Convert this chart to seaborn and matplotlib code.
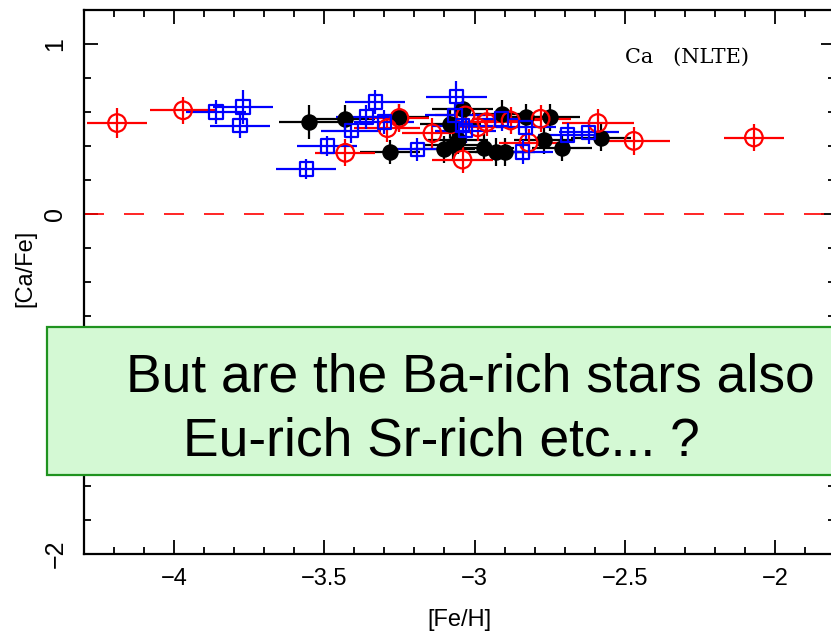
import matplotlib
matplotlib.use("Agg")
import matplotlib.pyplot as plt
import seaborn as sns
import pandas as pd
from matplotlib.patches import Rectangle
from matplotlib.ticker import MultipleLocator

# ---- data ----
red_feh  = [-4.19, -3.97, -3.43, -3.25, -3.29, -3.14, -3.04, -3.03, -2.99, -2.96, -2.88, -2.78, -2.82, -2.59, -2.47, -2.07]
red_cafe = [0.535, 0.61, 0.36, 0.565, 0.505, 0.475, 0.32, 0.58, 0.51, 0.54, 0.55, 0.56, 0.42, 0.535, 0.43, 0.45]
red_xerr = [0.10, 0.11, 0.10, 0.10, 0.11, 0.10, 0.10, 0.10, 0.10, 0.12, 0.10, 0.10, 0.10, 0.12, 0.12, 0.10]
red_yerr = [0.09, 0.08, 0.08, 0.08, 0.08, 0.09, 0.08, 0.08, 0.08, 0.08, 0.08, 0.08, 0.08, 0.08, 0.08, 0.08]

blue_feh  = [-3.86, -3.77, -3.78, -3.56, -3.49, -3.41, -3.36, -3.33, -3.30, -3.19, -3.06, -3.065, -3.04, -3.03, -2.91, -2.83, -2.84, -2.69, -2.62]
blue_cafe = [0.60, 0.63, 0.52, 0.265, 0.40, 0.49, 0.57, 0.66, 0.54, 0.38, 0.69, 0.58, 0.52, 0.49, 0.56, 0.51, 0.365, 0.465, 0.48]
blue_xerr = [0.10] * 19
blue_yerr = [0.07, 0.10, 0.07, 0.06, 0.06, 0.07, 0.07, 0.07, 0.07, 0.07, 0.09, 0.07, 0.07, 0.07, 0.07, 0.07, 0.07, 0.07, 0.07]

black_feh  = [-3.55, -3.43, -3.28, -3.25, -3.04, -3.08, -3.10, -3.07, -3.055, -2.97, -2.91, -2.93, -2.90, -2.83, -2.75, -2.77, -2.71, -2.58]
black_cafe = [0.54, 0.56, 0.365, 0.57, 0.62, 0.53, 0.38, 0.405, 0.435, 0.39, 0.59, 0.365, 0.365, 0.57, 0.57, 0.435, 0.39, 0.45]
black_xerr = [0.10] * 18
black_yerr = [0.10, 0.08, 0.07, 0.08, 0.08, 0.08, 0.08, 0.08, 0.08, 0.08, 0.08, 0.08, 0.08, 0.08, 0.08, 0.08, 0.08, 0.08]

x_ticks = [-4, -3.5, -3, -2.5, -2]
x_tick_labels = ["\u22124", "\u22123.5", "\u22123", "\u22122.5", "\u22122"]
y_ticks = [-2, 0, 1]
y_tick_labels = ["\u22122", "0", "1"]

sns.set_theme(style="ticks")
tick_font = ["Liberation Sans Narrow", "DejaVu Sans Condensed", "Liberation Sans"]
plt.rcParams["font.family"] = ["Liberation Sans", "DejaVu Sans"]
plt.rcParams["text.color"] = "black"
plt.rcParams["axes.labelcolor"] = "black"
plt.rcParams["xtick.color"] = "black"
plt.rcParams["ytick.color"] = "black"

fig = plt.figure(figsize=(8.31, 6.35), dpi=100)
ax = fig.add_axes([84 / 831, 1 - 554 / 635, (835 - 84) / 831, (554 - 10) / 635])

def draw(feh, cafe, xerr, yerr, color, marker, size, filled):
    df = pd.DataFrame({"feh": feh, "cafe": cafe})
    ax.errorbar(feh, cafe, xerr=xerr, yerr=yerr, fmt="none", ecolor=color,
                elinewidth=1.6, capsize=0, zorder=3)
    sns.scatterplot(data=df, x="feh", y="cafe", ax=ax, marker=marker, s=size,
                    facecolor=color if filled else "none", edgecolor=color,
                    linewidth=1.6, zorder=4, legend=False)

draw(black_feh, black_cafe, black_xerr, black_yerr, "black", "o", 105, True)
draw(red_feh, red_cafe, red_xerr, red_yerr, "#ff0000", "o", 160, False)
draw(blue_feh, blue_cafe, blue_xerr, blue_yerr, "#0000ff", "s", 95, False)

ax.axhline(0, color="#ff0000", lw=1.2, ls=(0, (12, 12)), zorder=2)

ax.set_xlim(-4.3, -1.8)
ax.set_ylim(-2, 1.2)
ax.set_xticks(x_ticks)
ax.set_xticklabels(x_tick_labels, fontsize=17, family=tick_font, color="black")
ax.set_yticks(y_ticks)
ax.set_yticklabels(y_tick_labels, fontsize=18, family=tick_font, rotation=90, va="center", color="black")
ax.xaxis.set_minor_locator(MultipleLocator(0.1))
ax.yaxis.set_minor_locator(MultipleLocator(0.2))
ax.tick_params(which="both", direction="in", top=True, right=True, color="black", width=1.3)
ax.tick_params(which="major", length=10)
ax.tick_params(which="minor", length=5)
ax.tick_params(axis="x", which="major", pad=10)
ax.tick_params(axis="y", which="major", pad=12)
for sp in ax.spines.values():
    sp.set_color("black")
    sp.set_linewidth(1.6)

ax.set_xlabel("[Fe/H]", fontsize=17, family=tick_font, labelpad=14, color="black")
ax.set_ylabel("[Ca/Fe]", fontsize=17, family=tick_font, labelpad=8, color="black")
ax.yaxis.set_label_coords(-0.064, (554 - 268) / 544)

fig.text(625 / 831, 1 - 63 / 635, "Ca   (NLTE)", family="DejaVu Serif", fontsize=15,
         ha="left", va="baseline", color="black")

# green callout box
rect = Rectangle((47 / 831, 1 - 475 / 635), 0.99, 148 / 635, transform=fig.transFigure,
                 facecolor="#d4f9d4", edgecolor="#1f931f", lw=1.6, zorder=10)
fig.patches.append(rect)
fig.text(126 / 831, 1 - 391 / 635, "But are the Ba-rich stars also", fontsize=38.4,
         family="Liberation Sans", ha="left", va="baseline", color="black", zorder=11)
fig.text(441 / 831, 1 - 456 / 635, "Eu-rich Sr-rich etc... ?", fontsize=38.4,
         family="Liberation Sans", ha="center", va="baseline", color="black", zorder=11)

fig.savefig("out.png", dpi=100)
